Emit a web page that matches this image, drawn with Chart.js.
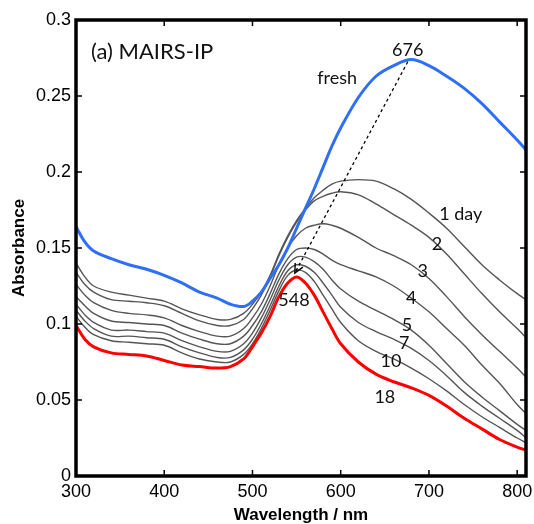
<!DOCTYPE html>
<html>
<head>
<meta charset="utf-8">
<script src="https://cdn.jsdelivr.net/npm/chart.js@4"></script>
<style>
  html, body { margin: 0; padding: 0; background: #fff; }
  canvas { display: block; }
</style>
</head>
<body>
<canvas id="myChart" width="534" height="524"></canvas>
<script>
// wavelengths (nm) shared by all spectra
const wavelength = [300, 310, 320, 340, 360, 380, 400, 420, 440, 460, 475, 490, 500, 510, 520, 530, 540, 550,
  560, 570, 580, 590, 600, 620, 640, 660, 680, 700, 720, 740, 760, 780, 800, 810];

// absorbance, fresh film and after N days
const fresh = [0.164, 0.154, 0.148, 0.143, 0.139, 0.136, 0.132, 0.127, 0.121, 0.117, 0.113, 0.1115, 0.115, 0.121, 0.130, 0.139, 0.150, 0.163,
  0.176, 0.189, 0.203, 0.217, 0.229, 0.249, 0.263, 0.270, 0.274, 0.270, 0.263, 0.255, 0.245, 0.233, 0.221, 0.2145];
const day1 = [0.140, 0.131, 0.125, 0.121, 0.119, 0.117, 0.115, 0.110, 0.106, 0.103, 0.103, 0.107, 0.113, 0.121, 0.132, 0.146, 0.158, 0.168,
  0.176, 0.183, 0.188, 0.192, 0.194, 0.195, 0.194, 0.189, 0.182, 0.173, 0.163, 0.151, 0.139, 0.129, 0.120, 0.116];
const day2 = [0.134, 0.126, 0.121, 0.116, 0.115, 0.114, 0.112, 0.107, 0.102, 0.099, 0.099, 0.103, 0.110, 0.119, 0.131, 0.145, 0.157, 0.167,
  0.175, 0.181, 0.184, 0.186, 0.187, 0.185, 0.179, 0.172, 0.165, 0.157, 0.146, 0.133, 0.120, 0.108, 0.097, 0.091];
const day3 = [0.126, 0.119, 0.114, 0.109, 0.107, 0.106, 0.104, 0.099, 0.095, 0.092, 0.092, 0.097, 0.104, 0.113, 0.125, 0.139, 0.150, 0.158,
  0.163, 0.165, 0.166, 0.165, 0.163, 0.157, 0.150, 0.145, 0.139, 0.130, 0.118, 0.105, 0.093, 0.082, 0.071, 0.065];
const day4 = [0.118, 0.112, 0.107, 0.102, 0.101, 0.100, 0.099, 0.094, 0.090, 0.087, 0.087, 0.092, 0.099, 0.108, 0.120, 0.133, 0.143, 0.149,
  0.150, 0.149, 0.146, 0.142, 0.139, 0.135, 0.131, 0.125, 0.117, 0.108, 0.097, 0.086, 0.073, 0.061, 0.047, 0.041];
const day5 = [0.113, 0.106, 0.101, 0.096, 0.096, 0.095, 0.094, 0.089, 0.085, 0.082, 0.082, 0.087, 0.094, 0.104, 0.116, 0.129, 0.139, 0.144,
  0.144, 0.141, 0.136, 0.129, 0.123, 0.115, 0.109, 0.103, 0.096, 0.086, 0.074, 0.062, 0.052, 0.043, 0.034, 0.030];
const day7 = [0.109, 0.102, 0.097, 0.092, 0.092, 0.091, 0.090, 0.085, 0.081, 0.078, 0.078, 0.083, 0.090, 0.100, 0.112, 0.125, 0.135, 0.139,
  0.138, 0.134, 0.127, 0.119, 0.111, 0.101, 0.095, 0.090, 0.084, 0.076, 0.066, 0.055, 0.046, 0.038, 0.030, 0.025];
const day10 = [0.105, 0.098, 0.093, 0.089, 0.088, 0.087, 0.086, 0.081, 0.077, 0.075, 0.075, 0.080, 0.087, 0.097, 0.109, 0.122, 0.132, 0.1355,
  0.134, 0.128, 0.119, 0.110, 0.101, 0.089, 0.082, 0.077, 0.071, 0.064, 0.056, 0.047, 0.039, 0.032, 0.025, 0.022];
const day18 = [0.099, 0.090, 0.085, 0.081, 0.080, 0.079, 0.076, 0.073, 0.072, 0.071, 0.072, 0.077, 0.085, 0.094, 0.105, 0.118, 0.127, 0.131,
  0.127, 0.119, 0.108, 0.097, 0.087, 0.075, 0.067, 0.062, 0.058, 0.053, 0.046, 0.038, 0.031, 0.024, 0.019, 0.017];

const xTicks = [300, 400, 500, 600, 700, 800];
const yTicks = [0, 0.05, 0.1, 0.15, 0.2, 0.25, 0.3];

// peak shift arrow 676 -> 548 nm
const arrowX = [676, 548];
const arrowY = [0.2725, 0.1335];

// text placed at data coordinates
const notes = [
  { text: '(a) MAIRS-IP', x: 317, y: 0.279, size: 22, align: 'left' },
  { text: '676', x: 676, y: 0.2803, size: 18, align: 'center' },
  { text: 'fresh', x: 596, y: 0.2618, size: 18, align: 'center' },
  { text: '1 day', x: 736, y: 0.1724, size: 18, align: 'center' },
  { text: '2', x: 709, y: 0.1526, size: 18, align: 'center' },
  { text: '3', x: 693, y: 0.1349, size: 18, align: 'center' },
  { text: '4', x: 680, y: 0.1171, size: 18, align: 'center' },
  { text: '5', x: 675, y: 0.0993, size: 18, align: 'center' },
  { text: '7', x: 672, y: 0.0875, size: 18, align: 'center' },
  { text: '10', x: 657, y: 0.0757, size: 18, align: 'center' },
  { text: '18', x: 650, y: 0.052, size: 18, align: 'center' },
  { text: '548', x: 547, y: 0.1158, size: 18, align: 'center' },
];

const toPoints = (values) => values.map((v, i) => ({ x: wavelength[i], y: v }));

const grayLine = (label, values) => ({
  label,
  data: toPoints(values),
  borderColor: '#555555',
  borderWidth: 1.4,
  pointRadius: 0,
  tension: 0.35,
  order: 3,
});

const framePlugin = {
  id: 'frame',
  afterDatasetsDraw(chart) {
    const { ctx, chartArea: a } = chart;
    const { x, y } = chart.scales;
    ctx.save();
    ctx.strokeStyle = '#000';
    ctx.lineWidth = 1.5;
    ctx.beginPath();
    xTicks.forEach((v) => {
      const px = x.getPixelForValue(v);
      ctx.moveTo(px, a.bottom);
      ctx.lineTo(px, a.bottom - 6);
      ctx.moveTo(px, a.top);
      ctx.lineTo(px, a.top + 6);
    });
    yTicks.forEach((v) => {
      const py = y.getPixelForValue(v);
      ctx.moveTo(a.left, py);
      ctx.lineTo(a.left + 6, py);
      ctx.moveTo(a.right, py);
      ctx.lineTo(a.right - 6, py);
    });
    ctx.stroke();
    ctx.lineWidth = 3.5;
    ctx.strokeRect(a.left, a.top, a.right - a.left, a.bottom - a.top);

    // arrow head
    const x0 = x.getPixelForValue(arrowX[0]);
    const y0 = y.getPixelForValue(arrowY[0]);
    const x1 = x.getPixelForValue(arrowX[1]);
    const y1 = y.getPixelForValue(arrowY[1]);
    const ang = Math.atan2(y1 - y0, x1 - x0);
    ctx.lineWidth = 1.4;
    ctx.beginPath();
    ctx.moveTo(x1 - 10 * Math.cos(ang - 0.45), y1 - 10 * Math.sin(ang - 0.45));
    ctx.lineTo(x1, y1);
    ctx.lineTo(x1 - 10 * Math.cos(ang + 0.45), y1 - 10 * Math.sin(ang + 0.45));
    ctx.stroke();

    ctx.fillStyle = '#111';
    ctx.textBaseline = 'middle';
    notes.forEach((n) => {
      ctx.font = `${n.size}px Lato, "Open Sans", sans-serif`;
      ctx.textAlign = n.align;
      ctx.fillText(n.text, x.getPixelForValue(n.x), y.getPixelForValue(n.y));
    });
    ctx.restore();
  },
};

const tickFont = { family: '"Liberation Sans", Arial, sans-serif', size: 18 };
const titleFont = { family: '"Liberation Sans", Arial, sans-serif', size: 17, weight: 'bold', lineHeight: 1 };

const chart = new Chart(document.getElementById('myChart').getContext('2d'), {
  type: 'line',
  data: {
    datasets: [
      {
        label: 'fresh',
        data: toPoints(fresh),
        borderColor: '#2f6ff5',
        borderWidth: 3,
        pointRadius: 0,
        tension: 0.35,
        order: 1,
      },
      {
        label: '18',
        data: toPoints(day18),
        borderColor: '#ff0000',
        borderWidth: 3,
        pointRadius: 0,
        tension: 0.35,
        order: 2,
      },
      grayLine('1 day', day1),
      grayLine('2', day2),
      grayLine('3', day3),
      grayLine('4', day4),
      grayLine('5', day5),
      grayLine('7', day7),
      grayLine('10', day10),
      {
        label: 'shift',
        data: arrowX.map((v, i) => ({ x: v, y: arrowY[i] })),
        borderColor: '#000',
        borderWidth: 1.3,
        borderDash: [3, 3],
        pointRadius: 0,
        tension: 0,
        order: 0,
      },
    ],
  },
  options: {
    responsive: false,
    animation: false,
    devicePixelRatio: 1,
    layout: { padding: { top: 20, right: 8, left: 0, bottom: 0 } },
    plugins: { legend: { display: false }, tooltip: { enabled: false } },
    scales: {
      x: {
        type: 'linear',
        min: 300,
        max: 810,
        grid: { display: false, drawTicks: false },
        border: { display: false },
        afterBuildTicks: (scale) => { scale.ticks = xTicks.map((v) => ({ value: v })); },
        afterFit: (scale) => { scale.height = 48; scale.paddingLeft = 0; scale.paddingRight = 0; },
        ticks: { font: tickFont, color: '#000', padding: 5, maxRotation: 0, callback: (v) => String(v) },
        title: { display: true, text: 'Wavelength / nm', font: titleFont, color: '#000', padding: { top: 0, bottom: 0 } },
      },
      y: {
        min: 0,
        max: 0.3,
        grid: { display: false, drawTicks: false },
        border: { display: false },
        afterBuildTicks: (scale) => { scale.ticks = yTicks.map((v) => ({ value: v })); },
        afterFit: (scale) => { scale.width = 76; },
        ticks: { font: tickFont, color: '#000', padding: 5, callback: (v) => String(+v.toFixed(2)) },
        title: { display: true, text: 'Absorbance', font: titleFont, color: '#000', padding: { top: 11, bottom: 0 } },
      },
    },
  },
  plugins: [framePlugin],
});
</script>
</body>
</html>
